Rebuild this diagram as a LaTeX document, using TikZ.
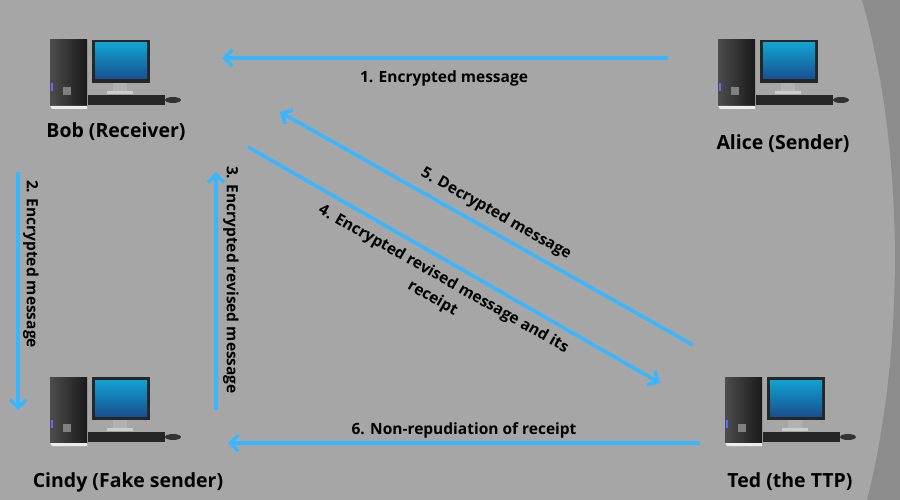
\documentclass[tikz,border=0pt]{standalone}
\usepackage{fontspec}
\setmainfont{Open Sans}
\usetikzlibrary{arrows.meta}
\definecolor{bg}{HTML}{A6A6A6}
\definecolor{bgd}{HTML}{8C8C8C}
\definecolor{arr}{HTML}{38B6FF}
\definecolor{scr}{HTML}{1E64B4}
\begin{document}
\begin{tikzpicture}[x=1pt,y=-1pt,
  lbl/.style={font=\bfseries\fontsize{19.5}{23}\selectfont},
  msg/.style={font=\bfseries\fontsize{15.5}{22}\selectfont},
  link/.style={draw=arr,line width=3.5pt,-{Straight Barb[length=8pt,width=16pt,line width=3.5pt]}},
  pc/.pic={
    \shade[left color=black!70,right color=black!90] (-65,-33) rectangle (-28,33);
    \fill[white!85!gray] (-65,33) -- (-28,33) -- (-28,36) -- (-63,36) -- cycle;
    \fill[blue!60] (-64,10) rectangle (-62,18);
    \fill[gray] (-52,14) rectangle (-44,22);
    \fill[black!85] (-23,-33) rectangle (35,10);
    \shade[top color=scr!60!cyan,bottom color=scr!80!black] (-20,-30) rectangle (32,6);
    \fill[gray!60!white] (-2,10) rectangle (12,18);
    \fill[gray!40!white] (-8,18) rectangle (18,21);
    \fill[black!85] (-27,22) rectangle (50,32);
    \fill[black!80] (58,27) ellipse (8 and 3);
  }]
\useasboundingbox (0,0) rectangle (900,500);
\fill[bg] (0,0) rectangle (900,500);
\fill[bgd] (862,0) .. controls (905,150) and (905,350) .. (867,500) -- (900,500) -- (900,0) -- cycle;

\pic (bobpc) at (115,73) {pc};
\pic (alicepc) at (783,73) {pc};
\pic (cindypc) at (115,410) {pc};
\pic (tedpc) at (790,410) {pc};
\node[lbl] (bob) at (116,132) {Bob (Receiver)};
\node[lbl] (alice) at (783,144) {Alice (Sender)};
\node[lbl] (cindy) at (128,482) {Cindy (Fake sender)};
\node[lbl] (ted) at (790,482) {Ted (the TTP)};

\coordinate (a1s) at (668,58); \coordinate (a1e) at (222,58);
\coordinate (a2s) at (18,172); \coordinate (a2e) at (18,410);
\coordinate (a3s) at (216,410); \coordinate (a3e) at (216,172);
\coordinate (a4s) at (248,147); \coordinate (a4e) at (660,383);
\coordinate (a5s) at (693,345); \coordinate (a5e) at (280,112);
\coordinate (a6s) at (700,443); \coordinate (a6e) at (228,443);

\draw[link] (a1s) -- (a1e);
\draw[link] (a2s) -- (a2e);
\draw[link] (a3s) -- (a3e);
\draw[link] (a4s) -- (a4e);
\draw[link] (a5s) -- (a5e);
\draw[link] (a6s) -- (a6e);

\node[msg] (m1) at (444,78) {1. Encrypted message};
\node[msg,rotate=-90] (m2) at (31,264) {2. Encrypted message};
\node[msg,rotate=-90] (m3) at (231,280) {3. Encrypted revised message};
\node[msg,rotate=-29.5,align=center] (m4) at (438,289) {4. Encrypted revised message and its\\receipt};
\node[msg,rotate=-29.5] (m5) at (496,214) {5. Decrypted message};
\node[msg] (m6) at (464,430) {6. Non-repudiation of receipt};
\end{tikzpicture}
\end{document}
